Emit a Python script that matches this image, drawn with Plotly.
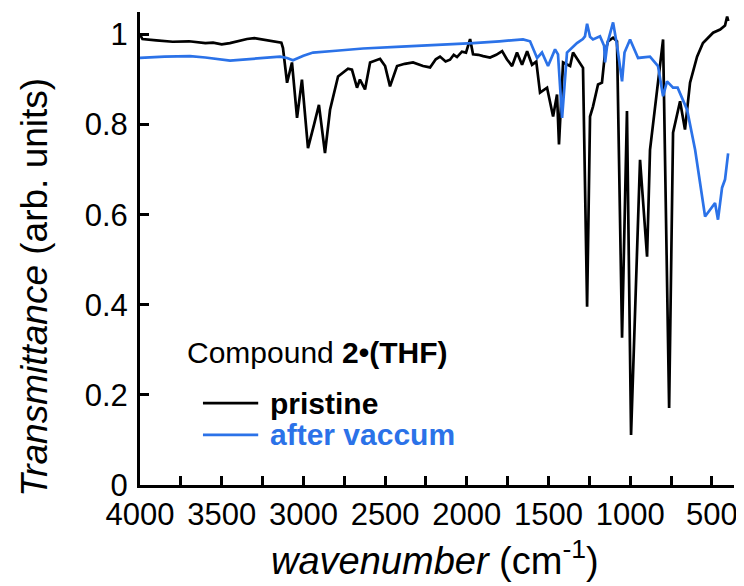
import plotly.graph_objects as go

# IR spectra (wavenumber in cm-1, transmittance in arb. units)
pristine_wn = [4000, 3985, 3900, 3800, 3700, 3600, 3553, 3500, 3450, 3400, 3345, 3300, 3250,
               3200, 3162, 3135, 3125, 3100, 3070, 3039, 3009, 2972, 2935, 2905, 2868, 2837,
               2788, 2727, 2703, 2672, 2654, 2623, 2592, 2531, 2500, 2470, 2427, 2380, 2329,
               2268, 2225, 2190, 2164, 2130, 2103, 2080, 2060, 2030, 2005, 1980, 1962, 1930,
               1900, 1858, 1820, 1784, 1755, 1723, 1693, 1662, 1631, 1601, 1575, 1552, 1509,
               1472, 1448, 1436, 1411, 1368, 1350, 1307, 1289, 1264, 1246, 1228, 1197, 1173,
               1154, 1136, 1105, 1081, 1050, 1020, 995, 940, 897, 879, 836, 799, 762, 738,
               695, 665, 634, 591, 555, 493, 450, 420, 407, 400]
pristine_t = [1.0, 0.99, 0.987, 0.984, 0.985, 0.981, 0.982, 0.978, 0.981, 0.986, 0.99, 0.992, 0.989,
              0.987, 0.985, 0.982, 0.97, 0.893, 0.938, 0.815, 0.90, 0.748, 0.80, 0.844, 0.737, 0.833,
              0.907, 0.924, 0.922, 0.882, 0.90, 0.878, 0.938, 0.946, 0.93, 0.885, 0.93, 0.935, 0.938,
              0.93, 0.927, 0.945, 0.951, 0.94, 0.944, 0.955, 0.95, 0.962, 0.96, 0.99, 0.956, 0.955,
              0.952, 0.949, 0.955, 0.963, 0.945, 0.93, 0.96, 0.933, 0.963, 0.933, 0.94, 0.871, 0.882,
              0.818, 0.867, 0.756, 0.938, 0.93, 0.96, 0.938, 0.926, 0.396, 0.818, 0.84, 0.889, 0.893,
              0.96, 0.985, 0.993, 0.985, 0.327, 0.83, 0.111, 0.722, 0.507, 0.744, 0.878, 0.989, 0.171, 0.782,
              0.852, 0.789, 0.893, 0.951, 0.981, 1.004, 1.011, 1.02, 1.04, 1.03]

vacuum_wn = [4000, 3850, 3694, 3600, 3449, 3300, 3143, 3100, 3064, 3000, 2941, 2800, 2635, 2400,
             2225, 1962, 1800, 1656, 1613, 1570, 1540, 1503, 1460, 1442, 1417, 1387, 1326, 1290,
             1277, 1264, 1246, 1228, 1185, 1160, 1154, 1140, 1105, 1080, 1050, 1035, 1001, 952,
             879, 830, 799, 775, 738, 710, 652, 603, 542, 481, 463, 438, 420, 401]
vacuum_t = [0.948, 0.951, 0.952, 0.949, 0.942, 0.946, 0.951, 0.948, 0.943, 0.953, 0.96, 0.964, 0.969, 0.973,
            0.976, 0.981, 0.985, 0.989, 0.985, 0.948, 0.96, 0.93, 0.967, 0.956, 0.815, 0.96, 0.981, 0.99,
            0.996, 1.024, 0.995, 0.989, 0.996, 0.975, 0.938, 0.98, 1.027, 0.974, 0.896, 0.96, 0.989, 0.948,
            0.951, 0.93, 0.863, 0.896, 0.882, 0.882, 0.833, 0.744, 0.596, 0.626, 0.589, 0.66, 0.678, 0.736]

y_ticks = [0, 0.2, 0.4, 0.6, 0.8, 1]

FONT = "Liberation Sans, Arial, sans-serif"
BLUE = "#2b72e8"

fig = go.Figure()
fig.add_trace(go.Scatter(x=pristine_wn, y=pristine_t, mode="lines", name="pristine",
                         line=dict(color="black", width=2.7)))
fig.add_trace(go.Scatter(x=vacuum_wn, y=vacuum_t, mode="lines", name="after vaccum",
                         line=dict(color=BLUE, width=2.7)))

# hand-made legend, key lines are longer than plotly's own
fig.add_annotation(x=0.076, y=0.281, xref="paper", yref="paper", xanchor="left", yanchor="middle",
                   text="Compound <b>2•(THF)</b>", showarrow=False,
                   font=dict(family=FONT, size=30, color="black"))
for ypos, label, colour in [(0.173, "pristine", "black"), (0.106, "after vaccum", BLUE)]:
    fig.add_shape(type="line", xref="paper", yref="paper", x0=0.106, x1=0.199, y0=ypos, y1=ypos,
                  line=dict(color=colour, width=2.7))
    fig.add_annotation(x=0.215, y=ypos, xref="paper", yref="paper", xanchor="left", yanchor="middle",
                       text="<b>%s</b>" % label, showarrow=False,
                       font=dict(family=FONT, size=30, color=colour))

# axis titles as annotations so they sit where the original has them
fig.add_annotation(x=0.497, y=-0.154, xref="paper", yref="paper", xanchor="center", yanchor="middle",
                   text="<i>wavenumber</i> (cm<sup>-1</sup>)", showarrow=False,
                   font=dict(family=FONT, size=38, color="black"))
fig.add_annotation(x=-0.177, y=0.419, xref="paper", yref="paper", xanchor="center", yanchor="middle",
                   text="<i>Transmittance</i> (arb. units)", textangle=-90, showarrow=False,
                   font=dict(family=FONT, size=37, color="black"))

# page body has an 8px margin, so the figure is 8px smaller and shifted
fig.update_layout(
    width=736, height=578,
    margin=dict(l=132, r=10, t=4, b=101),
    paper_bgcolor="white", plot_bgcolor="white",
    font=dict(family=FONT, color="black"),
    showlegend=False,
    xaxis=dict(range=[4000, 365], tick0=0, dtick=500, ticks="inside", ticklen=9, tickwidth=2.5,
               tickcolor="black", showline=True, linewidth=3, linecolor="black",
               showgrid=False, zeroline=False, tickfont=dict(size=31), automargin=False,
               minor=dict(dtick=250, ticks="inside", ticklen=9, tickwidth=2.5, tickcolor="black")),
    yaxis=dict(range=[0, 1.05], tickvals=y_ticks, ticktext=[str(v) for v in y_ticks],
               ticks="inside", ticklen=9, tickwidth=2.5, tickcolor="black",
               showline=True, linewidth=3, linecolor="black", showgrid=False, zeroline=False,
               tickfont=dict(size=31), automargin=False, ticklabelstandoff=3),
)

fig.write_html("out.html")
